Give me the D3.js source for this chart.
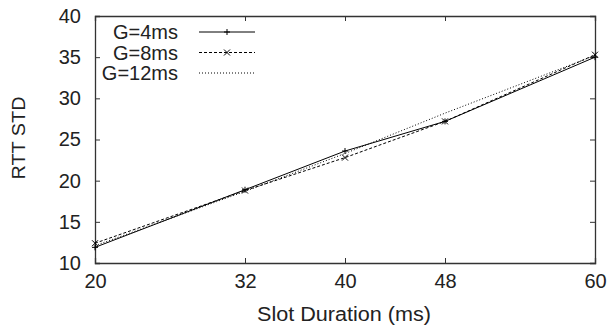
<!DOCTYPE html>
<html>
<head>
<meta charset="utf-8">
<script src="https://cdn.jsdelivr.net/npm/d3@7"></script>
<style>
  body { margin: 0; background: #fff; }
  svg { display: block; font-family: "Liberation Sans", Arial, sans-serif; }
</style>
</head>
<body>
<svg width="611" height="328"></svg>
<script>
// Valores.
const slots = [20, 32, 40, 48, 60];
const g4 = [11.9, 18.9, 23.6, 27.2, 35.0];
const g8 = [12.4, 18.8, 22.8, 27.2, 35.3];
const g12 = [12.1, 18.7, 23.3, 28.2, 35.2];
const seriesNames = ["G=4ms", "G=8ms", "G=12ms"];
const yTicks = [10, 15, 20, 25, 30, 35, 40];

const margin = { top: 16, right: 16, bottom: 65, left: 95 };
const width = 611 - margin.left - margin.right;
const height = 328 - margin.top - margin.bottom;

const svg = d3.select("svg");
const g = svg.append("g").attr("transform", `translate(${margin.left},${margin.top})`);

const xScale = d3.scaleLinear().domain([20, 60]).range([0, width]);
const yScale = d3.scaleLinear().domain([10, 40]).range([height, 0]);

const axisColor = "#333";
const textColor = "#222";

// Eixos (ticks para dentro, espelhados em cima e à direita).
const xAxis = g.append("g").attr("transform", `translate(0,${height})`)
    .call(d3.axisBottom(xScale).tickValues(slots).tickSize(-5).tickPadding(11));
const yAxis = g.append("g")
    .call(d3.axisLeft(yScale).tickValues(yTicks).tickSize(-5).tickPadding(14));
g.append("g").call(d3.axisTop(xScale).tickValues(slots).tickSize(-5).tickFormat(""));
g.append("g").attr("transform", `translate(${width},0)`)
    .call(d3.axisRight(yScale).tickValues(yTicks).tickSize(-5).tickFormat(""));

g.selectAll(".domain").attr("stroke", axisColor).attr("stroke-width", 1.3);
g.selectAll(".tick line").attr("stroke", axisColor);
g.selectAll(".tick text").attr("fill", textColor).style("font-size", "20px");
xAxis.selectAll(".tick text").attr("dy", "0.71em");

// Rótulos dos eixos.
svg.append("text")
    .attr("x", margin.left + 249).attr("y", 321)
    .attr("text-anchor", "middle").attr("fill", textColor)
    .attr("textLength", 174).attr("lengthAdjust", "spacingAndGlyphs")
    .style("font-size", "19.5px").text("Slot Duration (ms)");
svg.append("text")
    .attr("transform", "translate(25,138) rotate(-90)")
    .attr("text-anchor", "middle").attr("fill", textColor)
    .attr("textLength", 83).attr("lengthAdjust", "spacingAndGlyphs")
    .style("font-size", "18.5px").text("RTT STD");

const series = [
    { name: seriesNames[0], values: g4, dash: null, marker: "plus" },
    { name: seriesNames[1], values: g8, dash: "3,2", marker: "cross" },
    { name: seriesNames[2], values: g12, dash: "1,2", marker: null }
];

const line = d3.line().x((d, i) => xScale(slots[i])).y(d => yScale(d));

function drawMarker(sel, type, x, y) {
    const s = 3;
    if (type === "plus") {
        sel.append("path").attr("d", `M${x - s},${y}H${x + s}M${x},${y - s}V${y + s}`)
            .attr("stroke", "#000").attr("stroke-width", 1);
    } else if (type === "cross") {
        sel.append("path").attr("d", `M${x - s},${y - s}L${x + s},${y + s}M${x - s},${y + s}L${x + s},${y - s}`)
            .attr("stroke", "#000").attr("stroke-width", 1);
    }
}

series.forEach(s => {
    g.append("path")
        .datum(s.values)
        .attr("fill", "none")
        .attr("stroke", "#000")
        .attr("stroke-width", 1)
        .attr("stroke-dasharray", s.dash)
        .attr("d", line);
    s.values.forEach((v, i) => drawMarker(g, s.marker, xScale(slots[i]), yScale(v)));
});

// Legenda.
const legend = svg.append("g");
series.forEach((s, i) => {
    const y = 32 + i * 20.5;
    legend.append("text")
        .attr("x", 178).attr("y", y).attr("dy", "0.35em")
        .attr("text-anchor", "end").attr("fill", textColor)
        .style("font-size", "20px").text(s.name);
    legend.append("line")
        .attr("x1", 199).attr("x2", 255).attr("y1", y).attr("y2", y)
        .attr("stroke", "#000").attr("stroke-width", 1)
        .attr("stroke-dasharray", s.dash);
    drawMarker(legend, s.marker, 227, y);
});
</script>
</body>
</html>
